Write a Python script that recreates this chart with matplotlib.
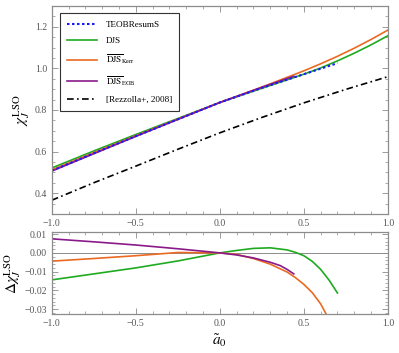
import numpy as np
import matplotlib
matplotlib.use('Agg')
import matplotlib.pyplot as plt
from matplotlib.ticker import MultipleLocator, FuncFormatter

plt.rcParams.update({
    'font.family': 'serif',
    'font.serif': ['Liberation Serif', 'DejaVu Serif'],
    'mathtext.fontset': 'stix',
    'axes.unicode_minus': True,
})

# top panel: chi_J^LSO vs a0
a_teob = [-1, -0.75, -0.5, -0.25, 0, 0.25, 0.5, 0.7]
chi_teob = [0.508, 0.592, 0.674, 0.755, 0.836, 0.906, 0.972, 1.025]

a_djs = [-1, -0.75, -0.5, -0.25, 0, 0.25, 0.5, 0.6, 0.7, 0.8, 0.9, 1.0]
chi_djs = [0.521, 0.603, 0.682, 0.759, 0.836, 0.904, 0.972, 1.002, 1.036, 1.073, 1.113, 1.157]

a_kerr = [-1, -0.75, -0.5, -0.25, 0, 0.25, 0.5, 0.6, 0.7, 0.8, 0.9, 1.0]
chi_kerr = [0.512, 0.595, 0.676, 0.756, 0.836, 0.910, 0.988, 1.022, 1.058, 1.097, 1.139, 1.184]

a_eob = [-1, -0.5, 0, 0.25, 0.44]
chi_eob = [0.506, 0.673, 0.836, 0.909, 0.962]

a_rez = [-1, -0.75, -0.5, -0.25, 0, 0.25, 0.5, 0.75, 1.0]
chi_rez = [0.366, 0.450, 0.530, 0.611, 0.690, 0.764, 0.834, 0.899, 0.960]

# bottom panel: delta chi
da_djs = [-1, -0.75, -0.5, -0.25, 0, 0.1, 0.2, 0.3, 0.4, 0.45, 0.5, 0.55, 0.6, 0.65, 0.7]
d_djs = [-0.0144, -0.0112, -0.0080, -0.0043, 0.0, 0.0013, 0.0024, 0.0027, 0.0016,
         0.0003, -0.0015, -0.0045, -0.0088, -0.0145, -0.0214]

da_kerr = [-1, -0.75, -0.5, -0.25, 0, 0.1, 0.2, 0.3, 0.4, 0.45, 0.5, 0.55, 0.6, 0.65, 0.7]
d_kerr = [-0.0044, -0.0030, -0.0015, 0.0002, 0.0, -0.0008, -0.0030, -0.0060, -0.0102,
          -0.0132, -0.0168, -0.0212, -0.0272, -0.0355, -0.0440]

da_eob = [-1, -0.75, -0.5, -0.25, 0, 0.1, 0.2, 0.3, 0.36, 0.4, 0.44]
d_eob = [0.0075, 0.0059, 0.0042, 0.0022, 0.0, -0.0011, -0.0027, -0.0050, -0.0068, -0.0088, -0.0112]

BLUE, GREEN, ORANGE, PURPLE = '#1a1aff', '#1faa1f', '#ea6a22', '#8a1a8a'
GRAY = '#8c8c8c'
TXT = '#555555'

fig = plt.figure(figsize=(3.99, 3.53), dpi=100)
ax1 = fig.add_axes([0.130, 0.394, 0.842, 0.589])
ax2 = fig.add_axes([0.130, 0.110, 0.842, 0.232])

lw = 1.2
ax1.plot(a_rez, chi_rez, color='black', ls=(0, (4, 2, 1, 2)), lw=lw, label='[Rezzolla+, 2008]')
ax1.plot(a_djs, chi_djs, color=GREEN, lw=lw, label='DJS')
ax1.plot(a_kerr, chi_kerr, color=ORANGE, lw=lw, label=r'$\overline{\rm DJS}_{\rm Kerr}$')
ax1.plot(a_eob, chi_eob, color=PURPLE, lw=lw, label=r'$\overline{\rm DJS}_{\rm EOB}$')
ax1.plot(a_teob, chi_teob, color=BLUE, ls=(0, (1.2, 1.2)), lw=1.5, label='TEOBResumS')

h, l = ax1.get_legend_handles_labels()
order = [4, 1, 2, 3, 0]
leg = ax1.legend([h[i] for i in order], [l[i] for i in order], loc='upper left',
                 bbox_to_anchor=(0.024, 0.966), borderaxespad=0, fontsize=6.6,
                 handlelength=3.2, handletextpad=1.0, labelspacing=0.85,
                 fancybox=False, framealpha=1, borderpad=0.8)
leg.get_frame().set_edgecolor('#333333')
leg.get_frame().set_linewidth(0.8)

ax2.axhline(0, color=GRAY, lw=0.7)
ax2.plot(da_djs, d_djs, color=GREEN, lw=lw)
ax2.plot(da_kerr, d_kerr, color=ORANGE, lw=lw)
ax2.plot(da_eob, d_eob, color=PURPLE, lw=lw)

ax1.set_xlim(-1, 1)
ax1.set_ylim(0.3, 1.3)
ax2.set_xlim(-1, 1)
ax2.set_ylim(-0.0327, 0.011)

for ax in (ax1, ax2):
    ax.xaxis.set_major_locator(MultipleLocator(0.5))
    ax.xaxis.set_minor_locator(MultipleLocator(0.1))
    ax.tick_params(which='both', direction='in', top=True, right=True,
                   colors=GRAY, labelcolor=TXT, labelsize=7)
    ax.tick_params(which='major', length=4, width=0.6)
    ax.tick_params(which='minor', length=2, width=0.5)
    for s in ax.spines.values():
        s.set_color(GRAY)
        s.set_linewidth(0.9)
    ax.xaxis.set_major_formatter(FuncFormatter(lambda v, p: f'{v:.1f}'.replace('-', '\u2212')))

ax1.yaxis.set_major_locator(MultipleLocator(0.2))
ax1.yaxis.set_minor_locator(MultipleLocator(0.05))
ax1.yaxis.set_major_formatter(FuncFormatter(lambda v, p: f'{v:.1f}'.replace('-', '\u2212')))
ax2.yaxis.set_major_locator(MultipleLocator(0.01))
ax2.yaxis.set_minor_locator(MultipleLocator(0.002))
ax2.yaxis.set_major_formatter(FuncFormatter(lambda v, p: f'{v:.2f}'.replace('-', '\u2212')))

ax1.set_ylabel(r'$\chi_J^{\rm LSO}$', fontsize=11, labelpad=2)
ax2.set_ylabel(r'$\Delta\chi_J^{\rm LSO}$', fontsize=11, labelpad=1)
ax2.set_xlabel(r'$\tilde{a}_0$', fontsize=11, labelpad=3)

fig.savefig('out.png', dpi=100)
